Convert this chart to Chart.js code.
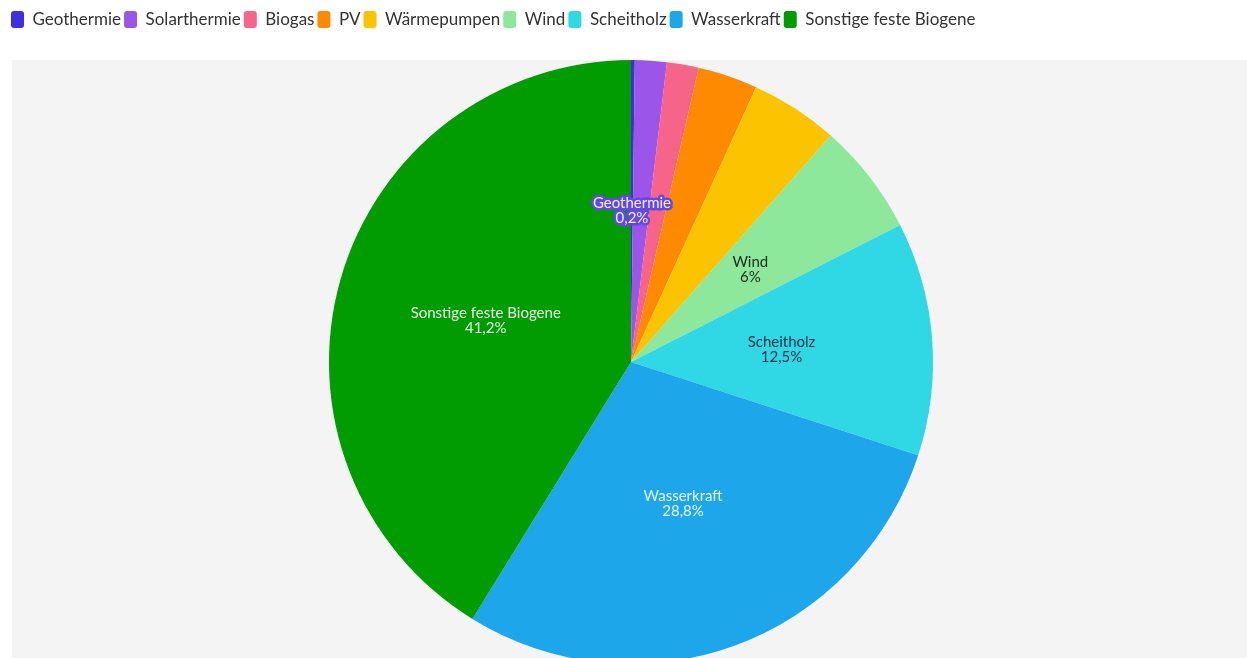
<!DOCTYPE html>
<html lang="de">
<head>
<meta charset="utf-8">
<title>Wärmeerzeugung erneuerbar</title>
<script src="https://cdn.jsdelivr.net/npm/chart.js@4.4.1/dist/chart.umd.min.js"></script>
<style>
  html, body { margin: 0; padding: 0; background: #fff; overflow: hidden; }
  #wrap { width: 1262px; height: 664px; }
</style>
</head>
<body>
<div id="wrap"><canvas id="pie" width="1262" height="664"></canvas></div>
<script>
// Daten
const categories = ['Geothermie', 'Solarthermie', 'Biogas', 'PV', 'Wärmepumpen', 'Wind', 'Scheitholz', 'Wasserkraft', 'Sonstige feste Biogene'];
const shares     = [0.2, 1.7, 1.7, 3.2, 4.7, 6, 12.5, 28.8, 41.2];
const colors     = ['#3f2fe0', '#9b55e8', '#f7648a', '#fd8a00', '#fcc400', '#8de89b', '#2fd8e4', '#1ea6ea', '#019b02'];

// Segmente mit Beschriftung und deren Textfarbe
const labelled  = ['Geothermie', 'Wind', 'Scheitholz', 'Wasserkraft', 'Sonstige feste Biogene'];
const textColor = { 'Wind': '#1e2b1e', 'Scheitholz': '#15304a', 'Wasserkraft': '#eaf5ff', 'Sonstige feste Biogene': '#eaf6ea', 'Geothermie': '#f4f0ff' };
const font = 'Lato, "Noto Sans", sans-serif';

const fmt = v => (Math.round(v * 10) / 10).toString().replace('.', ',') + '%';

// grauer Hintergrund hinter dem Kuchen
const panelBg = {
  id: 'panelBg',
  beforeDraw(chart) {
    const { ctx, chartArea: a } = chart;
    ctx.save();
    ctx.fillStyle = '#f4f4f4';
    ctx.fillRect(12, a.top, 1238, a.bottom - a.top);
    ctx.restore();
  }
};

// feste Legendenhöhe
const legendHeight = {
  id: 'legendHeight',
  beforeInit(chart) {
    const fit = chart.legend.fit;
    chart.legend.fit = function () { fit.bind(chart.legend)(); this.height = 52; };
  }
};

// Beschriftung in den Segmenten
const sliceLabels = {
  id: 'sliceLabels',
  afterDatasetsDraw(chart) {
    const { ctx } = chart;
    const meta = chart.getDatasetMeta(0);
    const total = shares.reduce((a, b) => a + b, 0);
    ctx.save();
    ctx.font = '15px ' + font;
    ctx.textAlign = 'center';
    ctx.textBaseline = 'middle';
    ctx.lineJoin = 'round';
    meta.data.forEach((arc, i) => {
      const name = categories[i];
      if (!labelled.includes(name)) return;
      const mid = (arc.startAngle + arc.endAngle) / 2;
      const r = arc.outerRadius / 2;
      const x = arc.x + Math.cos(mid) * r;
      const y = arc.y + Math.sin(mid) * r;
      const lines = [name, fmt(shares[i] / total * 100)];
      lines.forEach((t, k) => {
        const ly = y + (k - 0.5) * 15;
        if (name === 'Geothermie') {
          ctx.strokeStyle = '#6248e4';
          ctx.lineWidth = 5;
          ctx.strokeText(t, x, ly);
        }
        ctx.fillStyle = textColor[name];
        ctx.fillText(t, x, ly);
      });
    });
    ctx.restore();
  }
};

new Chart(document.getElementById('pie'), {
  type: 'pie',
  data: {
    labels: categories,
    datasets: [{
      data: shares,
      backgroundColor: colors,
      borderWidth: 0
    }]
  },
  options: {
    responsive: false,
    animation: false,
    layout: { padding: { left: 8, right: 8, top: 8, bottom: 0 } },
    plugins: {
      legend: {
        position: 'top',
        align: 'start',
        labels: {
          boxWidth: 13,
          boxHeight: 17,
          useBorderRadius: true,
          borderRadius: 3,
          padding: 3,
          color: '#333',
          font: { family: font, size: 17 }
        }
      },
      tooltip: { enabled: false }
    }
  },
  plugins: [panelBg, legendHeight, sliceLabels]
});
</script>
</body>
</html>
